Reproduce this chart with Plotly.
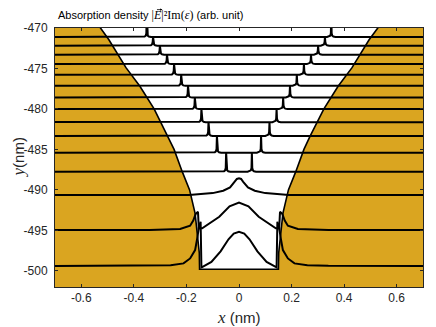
import plotly.graph_objects as go

GOLD = "#DAA520"
INK = "#262626"

# right half of the vacuum gap outline (mirrored for the left side)
gap_y = [-499.8, -497.8, -495.0, -492.9, -490.0, -487.75, -485.0, -483.4,
         -480.0, -477.2, -474.9, -471.45, -470.0, -468.5]
gap_x = [0.150, 0.151, 0.160, 0.167, 0.188, 0.216, 0.247, 0.270,
         0.323, 0.377, 0.430, 0.495, 0.528, 0.560]

# upper profiles: baseline height and |x| of the two surface peaks
row_base = [-471.11, -472.19, -473.30, -474.46, -475.78, -477.14,
            -478.59, -480.02, -481.63, -483.33, -485.40, -487.75]
peak_x = [0.351, 0.327, 0.301, 0.274, 0.247, 0.220,
          0.194, 0.168, 0.143, 0.116, 0.084, 0.049]

# foot of each peak (offset from peak, rise above baseline)
foot_dx = [0.016, 0.008, 0.004, 0.0015]
foot_dy = [0.0, 0.05, 0.16, 0.45]

# lower profiles, from the centre outwards (mirrored)
row13_x = [0.0, 0.008, 0.016, 0.034, 0.06, 0.10, 0.19, 0.72]
row13_y = [-488.56, -488.65, -489.0, -489.7, -490.1, -490.4, -490.63, -490.63]

row14_x = [0.0, 0.036, 0.075, 0.14, 0.153, 0.156, 0.165, 0.174, 0.186,
           0.224, 0.34, 0.72]
row14_y = [-491.58, -492.03, -493.32, -494.75, -494.75, -492.7, -493.0,
           -493.8, -494.43, -494.84, -494.96, -494.96]

row15_x = [0.0, 0.02, 0.04, 0.07, 0.105, 0.14, 0.143, 0.146, 0.152, 0.158,
           0.161, 0.167, 0.186, 0.211, 0.26, 0.34, 0.72]
row15_y = [-495.17, -495.4, -496.1, -497.6, -498.9, -499.55, -499.58,
           -493.94, -494.5, -495.8, -496.6, -497.44, -498.47, -499.08,
           -499.3, -499.38, -499.42]

xticks = [-0.6, -0.4, -0.2, 0, 0.2, 0.4, 0.6]
yticks = [-500, -495, -490, -485, -480, -475, -470]


def mirror(xs, ys):
    # xs start at 0 (centre) and go outwards
    lx = [-v for v in reversed(xs[1:])]
    ly = list(reversed(ys[1:]))
    return lx + xs, ly + ys


def twin_peaks(base, px, top):
    xs, ys = [-0.72], [base]
    for c in (-px, px):
        for d, h in zip(foot_dx, foot_dy):
            xs.append(c - d)
            ys.append(base + h)
        xs.append(c)
        ys.append(top)
        for d, h in zip(reversed(foot_dx), reversed(foot_dy)):
            xs.append(c + d)
            ys.append(base + h)
    xs.append(0.72)
    ys.append(base)
    return xs, ys


fig = go.Figure()

# vacuum region (white) cut out of the gold
ox = [-v for v in reversed(gap_x)] + gap_x
oy = list(reversed(gap_y)) + gap_y
fig.add_trace(go.Scatter(x=ox, y=oy, mode="lines", fill="toself",
                         fillcolor="white", line=dict(color="black", width=1.6),
                         hoverinfo="skip"))

for i, (b, p) in enumerate(zip(row_base, peak_x)):
    top = row_base[i - 1] if i > 0 else -468.0
    xs, ys = twin_peaks(b, p, top)
    fig.add_trace(go.Scatter(x=xs, y=ys, mode="lines",
                             line=dict(color="black", width=2)))

for rx, ry in [(row13_x, row13_y), (row14_x, row14_y), (row15_x, row15_y)]:
    xs, ys = mirror(rx, ry)
    fig.add_trace(go.Scatter(x=xs, y=ys, mode="lines",
                             line=dict(color="black", width=2)))

axis_common = dict(showgrid=False, zeroline=False, showline=True,
                   linecolor=INK, linewidth=1, mirror="allticks",
                   ticks="inside", ticklen=3, tickcolor=INK, tickwidth=1,
                   automargin=False,
                   tickfont=dict(family="Liberation Sans", size=12, color=INK))

# the page body adds 8px around the figure, so the figure is 8px smaller
fig.update_layout(
    width=428, height=319,
    margin=dict(l=47, r=13, t=20, b=40),
    paper_bgcolor="white", plot_bgcolor=GOLD,
    showlegend=False,
    xaxis=dict(range=[-0.7, 0.7], tickvals=xticks,
               ticktext=[("%g" % v) for v in xticks], **axis_common),
    yaxis=dict(range=[-502, -470], tickvals=yticks,
               ticktext=[str(v) for v in yticks], ticklabelstandoff=4,
               **axis_common),
)

fig.add_annotation(
    xref="paper", yref="paper", x=0.0, y=1.0, xanchor="left", yanchor="middle",
    yshift=13, xshift=1, showarrow=False,
    text='Absorption density <span style="font-family:Liberation Serif;font-size:12px">'
         '|<i>E</i>|\u00b2Im(<i>\u03b5</i>)</span> (arb. unit)',
    font=dict(family="Liberation Sans", size=11, color="black"))

# small vector arrow over the E
fig.add_annotation(
    xref="paper", yref="paper", x=0.292, y=1.071, text="",
    showarrow=True, axref="pixel", ayref="pixel", ax=-7, ay=0,
    arrowhead=2, arrowsize=0.6, arrowwidth=0.8, arrowcolor="black",
    standoff=0, startstandoff=0)

fig.add_annotation(
    xref="paper", yref="paper", x=0.5, y=0.0, xanchor="center", yanchor="middle",
    yshift=-30, showarrow=False,
    text='<span style="font-family:Liberation Serif;font-size:17px"><i>x</i></span> (nm)',
    font=dict(family="Liberation Sans", size=15, color=INK))

fig.add_annotation(
    xref="paper", yref="paper", x=0.0, y=0.5, xanchor="center", yanchor="middle",
    xshift=-37, textangle=-90, showarrow=False,
    text='<span style="font-family:Liberation Serif;font-size:17px"><i>y</i></span>(nm)',
    font=dict(family="Liberation Sans", size=15, color=INK))

fig.write_html("out.html")
